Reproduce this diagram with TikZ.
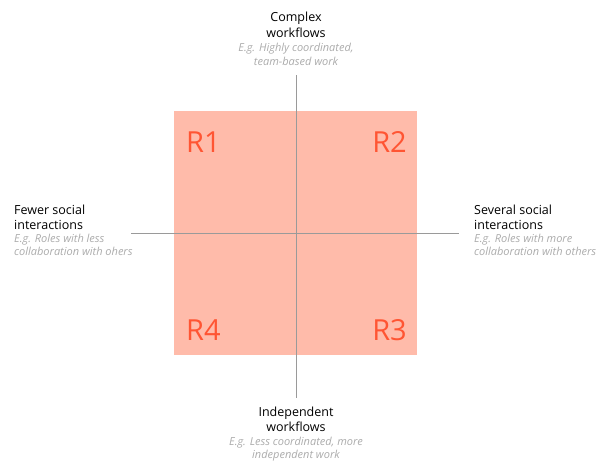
\documentclass[tikz,border=0pt]{standalone}
\usepackage{fontspec}
\setmainfont{Open Sans}
\usetikzlibrary{positioning}
\definecolor{quadfill}{HTML}{FFBBAA}
\definecolor{quadtext}{HTML}{FF5533}
\definecolor{axisgrey}{HTML}{9A9A9A}
\definecolor{notegrey}{HTML}{ABABAB}

\begin{document}
\begin{tikzpicture}[x=1pt, y=-1pt,
  axistitle/.style={inner sep=0pt, font=\fontsize{12.5}{15.5}\selectfont, text=black},
  axisnote/.style={inner sep=0pt, font=\fontsize{11}{13.5}\selectfont\itshape, text=notegrey},
  quadlabel/.style={inner sep=0pt, font=\fontsize{29}{29}\selectfont, text=quadtext}]
\useasboundingbox (0,0) rectangle (598,464);

% Quadrant square
\node[rectangle, minimum width=243pt, minimum height=244pt, fill=quadfill, inner sep=0pt] (square) at (295.5,233) {};

% Axes
\coordinate (ytop) at (296,75);
\coordinate (ybot) at (296,398);
\coordinate (xleft) at (131,233);
\coordinate (xright) at (459,233);
\draw[axisgrey, line width=1pt] (ytop) -- (ybot);
\draw[axisgrey, line width=1pt] (xleft) -- (xright);

% Region labels
\node[quadlabel, anchor=west] (r1) at (186,142) {R1};
\node[quadlabel, anchor=east] (r2) at (407,142) {R2};
\node[quadlabel, anchor=east] (r3) at (407,330) {R3};
\node[quadlabel, anchor=west] (r4) at (186,330) {R4};

% Axis texts
\node[axistitle, align=center] (toptitle) at (296,25) {Complex\\workflows};
\node[axisnote, align=center] (topnote) at (296,54.5) {E.g. Highly coordinated,\\team-based work};

\node[axistitle, align=center] (bottitle) at (296,419.5) {Independent\\workflows};
\node[axisnote, align=center] (botnote) at (296,449) {E.g. Less coordinated, more\\independent work};

\node[axistitle, align=left, anchor=west] (lefttitle) at (14,217.5) {Fewer social\\interactions};
\node[axisnote, align=left, anchor=west] (leftnote) at (14,245) {E.g. Roles with less\\collaboration with ohers};

\node[axistitle, align=left, anchor=west] (righttitle) at (474,217.5) {Several social\\interactions};
\node[axisnote, align=left, anchor=west] (rightnote) at (474,245) {E.g. Roles with more\\collaboration with others};
\end{tikzpicture}
\end{document}
